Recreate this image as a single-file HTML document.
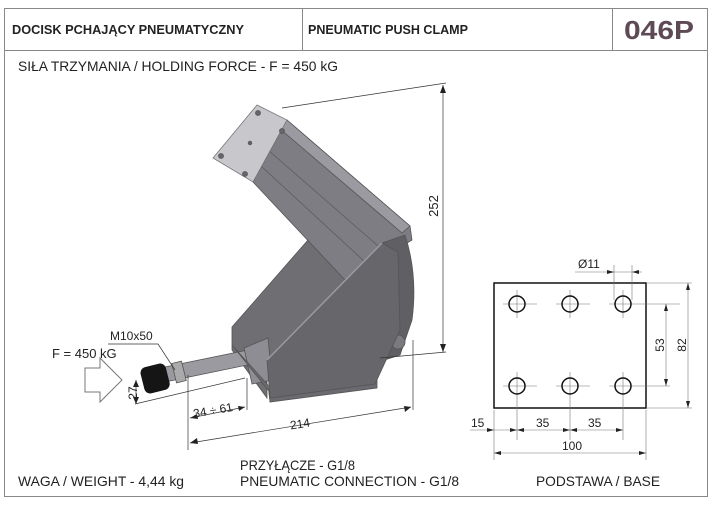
<!DOCTYPE html>
<html><head><meta charset="utf-8"><style>
html,body{margin:0;padding:0;background:#fff}
svg{display:block}
text{font-family:"Liberation Sans",sans-serif}
</style></head><body>
<svg width="712" height="505" viewBox="0 0 712 505" xmlns="http://www.w3.org/2000/svg">
<rect x="4.5" y="8.5" width="703" height="488" fill="#fff" stroke="#888" stroke-width="1"/>
<line x1="4" y1="50.5" x2="708" y2="50.5" stroke="#888"/>
<line x1="302.5" y1="8" x2="302.5" y2="50" stroke="#888"/>
<line x1="612.5" y1="8" x2="612.5" y2="50" stroke="#888"/>
<text x="12" y="34" font-size="13" font-weight="bold" fill="#222" textLength="232" lengthAdjust="spacingAndGlyphs">DOCISK PCHAJĄCY PNEUMATYCZNY</text>
<text x="308" y="34" font-size="13" font-weight="bold" fill="#222" textLength="160" lengthAdjust="spacingAndGlyphs">PNEUMATIC PUSH CLAMP</text>
<text x="624" y="39" font-size="26" font-weight="bold" fill="#5e4a55" textLength="70" lengthAdjust="spacingAndGlyphs">046P</text>
<text x="18" y="71" font-size="14" fill="#222" textLength="320" lengthAdjust="spacingAndGlyphs">SIŁA TRZYMANIA / HOLDING FORCE - F = 450 kG</text>

<!-- clamp -->
<g stroke="#555" stroke-width="0.8">
<!-- back plate -->
<polygon points="232,327 308,240 382,243 267,360 267,398 232,350" fill="#6e6e73"/>
<!-- cylinder body -->
<polygon points="287,120 410,226 412,240 345,280 253,182" fill="#7d7d83"/>
<polygon points="287,120 410,226 402,233 279,128" fill="#9a9aa0"/>
<line x1="268" y1="150" x2="385" y2="252" stroke="#5a5a60"/>
<line x1="261" y1="166" x2="365" y2="262" stroke="#5a5a60"/>
<!-- face -->
<polygon points="257,105 287,120 253,182 213,158" fill="#c7c7cc" stroke="#777"/>
<circle cx="258" cy="113" r="2.5" fill="#666"/>
<circle cx="282" cy="131" r="2.5" fill="#666"/>
<circle cx="221" cy="156" r="2.5" fill="#666"/>
<circle cx="245" cy="174" r="2.5" fill="#666"/>
<circle cx="250" cy="143" r="1.8" fill="#666"/>
<!-- rod + boss -->
<polygon points="160,368 248,350 252,364 165,382" fill="#9a9aa0"/>
<polygon points="244,348 268,338 272,380 252,384" fill="#8d8d93"/>
<!-- base -->
<polygon points="232,345 268,385 270,402 377,388 377,378 268,390" fill="#6a6a70"/>
<!-- right side plate -->
<path d="M382,243 L405,235 Q418,275 412,320 L400,355 L378,362 Z" fill="#5f5f64"/>
<circle cx="388" cy="262" r="6" fill="#8a8a90"/>
<circle cx="398" cy="342" r="7" fill="#7a7a80"/>
<!-- front plate -->
<polygon points="382,243 398,252 400,330 375,384 270,398 267,360" fill="#66666b"/>
<line x1="382" y1="243" x2="267" y2="360" stroke="#9a9aa0" stroke-width="1.5"/>
<!-- nut -->
<rect x="174" y="362" width="10" height="20" fill="#aaa" transform="rotate(-14 179 372)"/>
</g>
<!-- knob -->
<rect x="142" y="365" width="26" height="27" rx="6" fill="#151515" transform="rotate(-14 155 378)"/>
<!-- arrow -->
<polygon points="85,368 100,368 100,358 122,380 100,402 100,392 85,392" fill="#fff" stroke="#777"/>
<text x="52" y="358" font-size="13" fill="#222">F = 450 kG</text>
<text x="110" y="340" font-size="12" fill="#222">M10x50</text>
<g stroke="#333" stroke-width="0.7" fill="none">
<path d="M108,344 H158 L175,370"/>
<line x1="136" y1="380" x2="136" y2="404"/>
<line x1="135" y1="404" x2="245" y2="378"/>
<line x1="188" y1="375" x2="188" y2="450"/>
<line x1="247" y1="378" x2="247" y2="410"/>
<line x1="190" y1="418" x2="245" y2="407"/>
<line x1="413" y1="340" x2="413" y2="410"/>
<line x1="190" y1="443" x2="411" y2="407"/>
<line x1="282" y1="108" x2="446" y2="83"/>
<line x1="380" y1="358" x2="446" y2="352"/>
<line x1="443" y1="85" x2="443" y2="352"/>
</g>
<g fill="#222">
<polygon points="136,380 133,387 139,387"/><polygon points="136,404 133,397 139,397"/>
<polygon points="190,418 197,414 198,419"/><polygon points="245,407 238,406 239,411"/>
<polygon points="190,443 197,438 198,444"/><polygon points="411,407 404,406 405,412"/>
<polygon points="443,85 440,93 446,93"/><polygon points="443,352 440,344 446,344"/>
</g>
<text x="133" y="397" font-size="12" fill="#222" transform="rotate(-90 133 393)" text-anchor="middle">27</text>
<text x="193" y="414" font-size="12" fill="#222" transform="rotate(-10 215 410)">34 ÷ 61</text>
<text x="290" y="428" font-size="12" fill="#222" transform="rotate(-9 300 424)">214</text>
<text x="438" y="206" font-size="13" fill="#222" transform="rotate(-90 438 206)" text-anchor="middle">252</text>

<!-- base plate -->
<rect x="494" y="283" width="152" height="125" fill="none" stroke="#111" stroke-width="1.5"/>
<g stroke="#777" stroke-width="0.6">
<line x1="503" y1="304" x2="537" y2="304"/><line x1="556" y1="304" x2="590" y2="304"/><line x1="609" y1="304" x2="680" y2="304"/>
<line x1="503" y1="386" x2="537" y2="386"/><line x1="556" y1="386" x2="590" y2="386"/><line x1="609" y1="386" x2="670" y2="386"/>
<line x1="517" y1="290" x2="517" y2="318"/><line x1="570" y1="290" x2="570" y2="318"/><line x1="623" y1="290" x2="623" y2="318"/>
<line x1="517" y1="372" x2="517" y2="440"/><line x1="570" y1="372" x2="570" y2="440"/><line x1="623" y1="372" x2="623" y2="440"/>
<line x1="494" y1="410" x2="494" y2="460"/><line x1="646" y1="410" x2="646" y2="460"/>
<line x1="614" y1="265" x2="614" y2="300"/><line x1="632" y1="265" x2="632" y2="300"/>
<line x1="575" y1="272" x2="642" y2="272"/>
<line x1="646" y1="283" x2="692" y2="283"/><line x1="646" y1="408" x2="692" y2="408"/>
<line x1="666" y1="304" x2="666" y2="386"/><line x1="688" y1="283" x2="688" y2="408"/>
<line x1="470" y1="430" x2="623" y2="430"/>
<line x1="494" y1="453" x2="646" y2="453"/>
</g>
<g fill="none" stroke="#111" stroke-width="1.5">
<circle cx="517" cy="304" r="8"/><circle cx="570" cy="304" r="8"/><circle cx="623" cy="304" r="8"/>
<circle cx="517" cy="386" r="8"/><circle cx="570" cy="386" r="8"/><circle cx="623" cy="386" r="8"/>
</g>
<g fill="#222">
<polygon points="614,272 607,270 607,274"/><polygon points="632,272 639,270 639,274"/>
<polygon points="666,304 664,311 668,311"/><polygon points="666,386 664,379 668,379"/>
<polygon points="688,283 686,290 690,290"/><polygon points="688,408 686,401 690,401"/>
<polygon points="494,430 487,428 487,432"/><polygon points="517,430 510,428 510,432"/><polygon points="517,430 524,428 524,432"/>
<polygon points="570,430 563,428 563,432"/><polygon points="570,430 577,428 577,432"/><polygon points="623,430 616,428 616,432"/>
<polygon points="494,453 501,451 501,455"/><polygon points="646,453 639,451 639,455"/>
</g>
<text x="578" y="268" font-size="12" fill="#222">Ø11</text>
<text x="664" y="345" font-size="12" fill="#222" transform="rotate(-90 664 345)" text-anchor="middle">53</text>
<text x="686" y="345" font-size="12" fill="#222" transform="rotate(-90 686 345)" text-anchor="middle">82</text>
<text x="471" y="427" font-size="12" fill="#222">15</text>
<text x="536" y="427" font-size="12" fill="#222">35</text>
<text x="588" y="427" font-size="12" fill="#222">35</text>
<text x="562" y="450" font-size="12" fill="#222">100</text>

<text x="18" y="486" font-size="14" fill="#222" textLength="166" lengthAdjust="spacingAndGlyphs">WAGA / WEIGHT - 4,44 kg</text>
<text x="240" y="470" font-size="14" fill="#222" textLength="115" lengthAdjust="spacingAndGlyphs">PRZYŁĄCZE - G1/8</text>
<text x="240" y="486" font-size="14" fill="#222" textLength="219" lengthAdjust="spacingAndGlyphs">PNEUMATIC CONNECTION - G1/8</text>
<text x="536" y="486" font-size="14" fill="#222" textLength="124" lengthAdjust="spacingAndGlyphs">PODSTAWA / BASE</text>
</svg>
</body></html>
